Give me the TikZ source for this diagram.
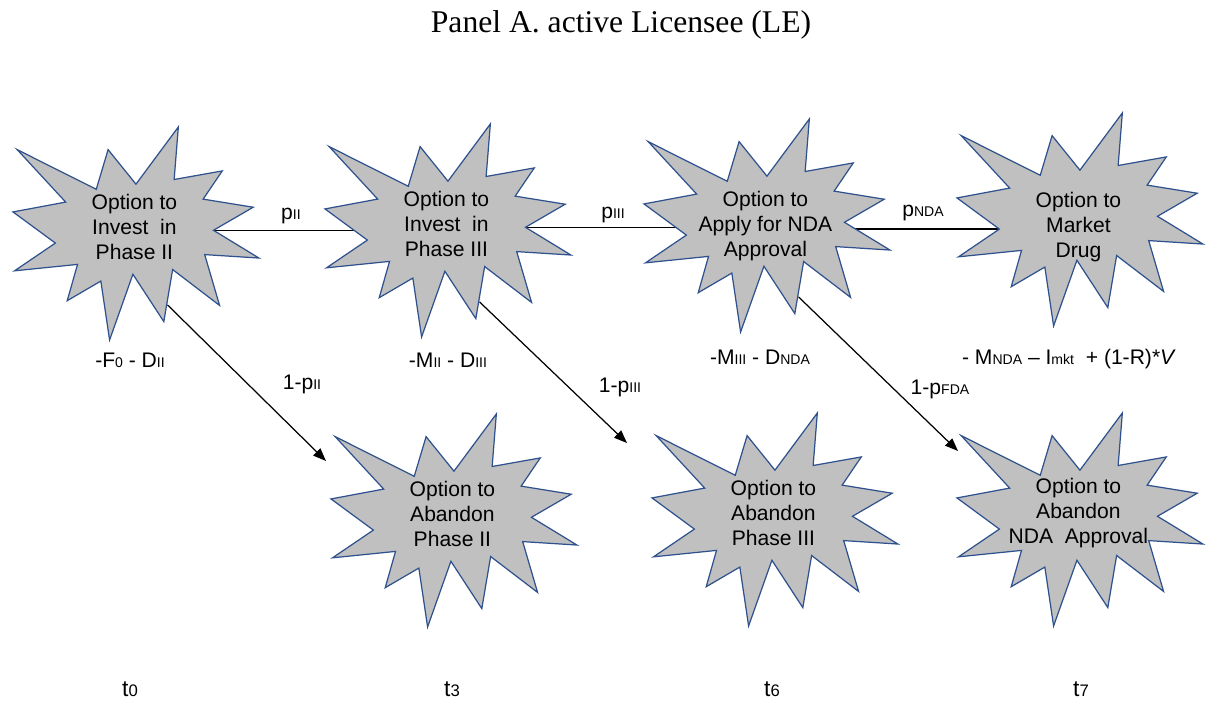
\documentclass[tikz,border=0pt]{standalone}
\usepackage{fontspec}
\setmainfont{Liberation Sans}
\newfontfamily\titlefont{Liberation Serif}
\usetikzlibrary{arrows.meta,backgrounds}

\definecolor{burstgray}{RGB}{192,192,192}
\definecolor{burstblue}{RGB}{47,82,143}

\tikzset{
  burstfill/.style={fill=burstgray, draw=burstblue, line width=0.7pt, line join=miter},
  bursttext/.style={align=center, inner sep=0pt, font=\fontsize{12}{14.2}\selectfont},
  edge/.style={line width=0.8pt},
  flow/.style={line width=0.7pt, -{Triangle[length=0.26cm,width=0.2cm]}},
  lbl/.style={anchor=base, inner sep=0pt, font=\fontsize{12}{14}\selectfont},
  tick/.style={anchor=base, inner sep=0pt, font=\fontsize{13}{15}\selectfont},
}

% small index set on the baseline
\newcommand\lo[1]{{\fontsize{8}{8}\selectfont #1}}
\newcommand\tlo[1]{{\fontsize{9.5}{9.5}\selectfont #1}}

% explosion shape in a 100 x 100 box, top left corner at (#3,#4)
\newcommand\burst[5][]{%
  \begin{scope}[shift={(#3,#4)}, x=0.0492cm, y=-0.0426cm]
    \draw[burstfill] (50,26.85) -- (67.23,0) -- (65.53,24.65) -- (85.09,20.63)
      -- (77.32,33.87) -- (97.67,37.67) -- (81.51,48.50) -- (100,61.53)
      -- (77.95,59.92) -- (84.00,83.77) -- (64.91,66.93) -- (61.33,91.38)
      -- (48.76,69.14) -- (39.28,100) -- (35.72,72.35) -- (22.05,81.56)
      -- (26.24,64.52) -- (0.63,67.53) -- (17.23,54.51) -- (0,39.88)
      -- (21.42,35.26) -- (1.71,10.63) -- (33.85,29.26) -- (38.67,10.63) -- cycle;
    \coordinate (#2-w) at (17.23,54.51);
    \coordinate (#2-e) at (81.51,48.50);
    \coordinate (#2-s) at (62.8,83.5);
    \node[bursttext,#1] (#2) at (49.37,46.9) {#5};
  \end{scope}}

\begin{document}
\begin{tikzpicture}[x=0.02cm, y=-0.02cm]
  \useasboundingbox (0,0) rectangle (1208,702);

  \node[anchor=base, inner sep=0pt, font=\titlefont\fontsize{18}{21}\selectfont] (title)
    at (621,33) {Panel A. active Licensee (LE)};

  % options
  \burst{invII}{13}{127}{Option to\\Invest\ \ in\\Phase II}
  \burst{invIII}{325}{124}{Option to\\Invest\ \ in\\Phase III}
  \burst[yshift=-0.14cm]{aplNDA}{644}{119}{Option to\\Apply for NDA\\Approval}
  \burst[yshift=-0.28cm]{mkt}{957}{113}{Option to\\Market\\Drug}
  \burst{abII}{331}{414}{Option to\\Abandon\\Phase II}
  \burst{abIII}{652}{413}{Option to\\Abandon\\Phase III}
  \burst{abNDA}{957}{413}{Option to\\Abandon\\NDA\ \ Approval}

  \coordinate (inII) at (326,461);
  \coordinate (inIII) at (627,443);
  \coordinate (inNDA) at (958,451);

  \begin{pgfonlayer}{background}
    \draw[edge] (invII-e) -- (invII-e -| invIII-w);
    \draw[edge] (invIII-e) -- (invIII-e -| aplNDA-w);
    \draw[edge] (mkt-w -| aplNDA-e) -- (mkt-w);
    \draw[flow] (invII-s) -- (inII);
    \draw[flow] (invIII-s) -- (inIII);
    \draw[flow] (aplNDA-s) -- (inNDA);
  \end{pgfonlayer}

  % probabilities
  \node[lbl] (pII) at (291,220) {p\lo{II}};
  \node[lbl] (pIII) at (613,219) {p\lo{III}};
  \node[lbl] (pNDA) at (923,217) {p\lo{NDA}};
  \node[lbl] (qII) at (302,390) {1-p\lo{II}};
  \node[lbl] (qIII) at (620,393) {1-p\lo{III}};
  \node[lbl] (qFDA) at (940,395) {1-p\lo{FDA}};

  % payoffs
  \node[lbl] (cII) at (130,368) {-F\lo{0} - D\lo{II}};
  \node[lbl] (cIII) at (448,368) {-M\lo{II} - D\lo{III}};
  \node[lbl] (cNDA) at (760,365) {-M\lo{III} - D\lo{NDA}};
  \node[lbl] (cmkt) at (1069,365) {- M\lo{NDA} -- I\lo{mkt}\ \ + (1-R)*\textit{V}};

  % dates
  \node[tick] (t0) at (130,697) {t\tlo{0}};
  \node[tick] (t3) at (452,697) {t\tlo{3}};
  \node[tick] (t6) at (772,697) {t\tlo{6}};
  \node[tick] (t7) at (1081,697) {t\tlo{7}};
\end{tikzpicture}
\end{document}
